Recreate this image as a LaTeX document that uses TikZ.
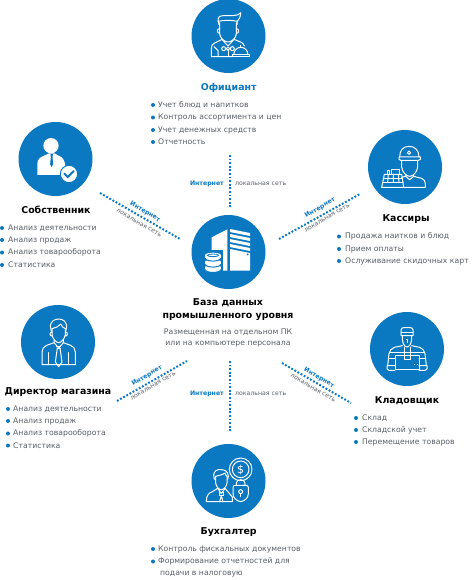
\documentclass[tikz,border=0pt]{standalone}
\usepackage{fontspec}
\setmainfont{DejaVu Sans}
\definecolor{brandblue}{HTML}{0B78C2}
\definecolor{bodygray}{HTML}{5A5F66}
\tikzset{
  hub/.style={circle,fill=brandblue,minimum size=74pt,inner sep=0pt},
  title/.style={font=\fontsize{9.4}{11}\selectfont\bfseries,text=black,inner sep=0pt},
  bluetitle/.style={title,text=brandblue},
  item/.style={font=\fontsize{7.7}{9}\selectfont,text=bodygray,anchor=west,inner sep=0pt},
  bullet/.style={circle,fill=brandblue,minimum size=4pt,inner sep=0pt},
  note/.style={font=\fontsize{7.7}{11}\selectfont,text=bodygray,align=center,inner sep=0pt},
  link/.style={brandblue,line width=2pt,dash pattern=on 1.8pt off 1.8pt},
  inet/.style={font=\fontsize{6.2}{7}\selectfont\bfseries,text=brandblue,inner sep=0pt},
  lan/.style={font=\fontsize{6.2}{7}\selectfont,text=bodygray,inner sep=0pt},
  icon/.style={white,line width=1pt,line join=round,line cap=round},
}
\begin{document}
\begin{tikzpicture}[x=1pt,y=-1pt]
\useasboundingbox (0,0) rectangle (474,580);
\fill[white] (0,0) rectangle (474,580);
% hubs
\node[hub] (waiter) at (228.5,36) {};
\node[hub] (owner) at (55.5,159) {};
\node[hub] (cashier) at (405,167) {};
\node[hub] (db) at (228.5,252) {};
\node[hub] (director) at (58,342) {};
\node[hub] (keeper) at (407,349) {};
\node[hub] (accountant) at (228.5,481) {};
% connector ends
\coordinate (t1) at (229.5,155); \coordinate (t2) at (229.5,208);
\coordinate (b1) at (229.5,361); \coordinate (b2) at (229.5,431);
\coordinate (o1) at (100,193); \coordinate (o2) at (180,239);
\coordinate (c1) at (279,239); \coordinate (c2) at (360,194);
\coordinate (d1) at (117,401); \coordinate (d2) at (187,361);
\coordinate (k1) at (282,363); \coordinate (k2) at (351,403);
\draw[link] (t1) -- (t2);
\draw[link] (b1) -- (b2);
\draw[link] (o1) -- (o2);
\draw[link] (c1) -- (c2);
\draw[link] (d1) -- (d2);
\draw[link] (k1) -- (k2);
% connector labels
\node[inet,anchor=east] (ti) at (224,184) {Интернет};
\node[lan,anchor=west] (tl) at (235,184) {локальная сеть};
\node[inet,anchor=east] (bi) at (224,394) {Интернет};
\node[lan,anchor=west] (bl) at (235,394) {локальная сеть};
\node[inet,rotate=-30] (oi) at (145,212) {Интернет};
\node[lan,rotate=-30] (ol) at (139,223) {локальная сеть};
\node[inet,rotate=30] (ci) at (320,208) {Интернет};
\node[lan,rotate=30] (cl) at (327,218) {локальная сеть};
\node[inet,rotate=30] (di) at (147,376) {Интернет};
\node[lan,rotate=30] (dl) at (153,386) {локальная сеть};
\node[inet,rotate=-30] (ki) at (319,378) {Интернет};
\node[lan,rotate=-30] (kl) at (313,388) {локальная сеть};
% titles
\node[bluetitle] (tw) at (228.7,88) {Официант};
\node[title] (to) at (56,210) {Собственник};
\node[title] (tc) at (406,219) {Кассиры};
\node[title] (tdb1) at (228,303) {База данных};
\node[title] (tdb2) at (228,317) {промышленного уровня};
\node[note] (ndb) at (228,338) {Размещенная на отдельном ПК\\или на компьютере персонала};
\node[title] (td) at (58,392) {Директор магазина};
\node[title] (tk) at (407,401) {Кладовщик};
\node[title] (ta) at (228.7,532) {Бухгалтер};
% lists
\foreach \n/\bx/\tx/\y/\t in {
 w1/153/158/105/Учет блюд и напитков,
 w2/153/158/117.5/Контроль ассортимента и цен,
 w3/153/158/130/Учет денежных средств,
 w4/153/158/142/Отчетность,
 o1x/2/8/228/Анализ деятельности,
 o2x/2/8/240/Анализ продаж,
 o3x/2/8/252.5/Анализ товарооборота,
 o4x/2/8/265/Статистика,
 c1x/339/345/236.5/Продажа наитков и блюд,
 c2x/339/345/249/Прием оплаты,
 c3x/339/345/261/Ослуживание скидочных карт,
 d1x/8/13/409/Анализ деятельности,
 d2x/8/13/421/Анализ продаж,
 d3x/8/13/433.5/Анализ товарооборота,
 d4x/8/13/445.5/Статистика,
 k1x/356/362/418/Склад,
 k2x/356/362/430/Складской учет,
 k3x/356/362/442/Перемещение товаров,
 a1x/153/158/549/Контроль фискальных документов,
 a2x/153/158/561.5/Формирование отчетностей для}
 {\node[bullet] (b\n) at (\bx,\y) {};
  \node[item] (i\n) at (\tx,\y) {\t};}
\node[item] (a3x) at (160,574) {подачи в налоговую};

% --- waiter icon
\begin{scope}[shift={(198,6)},scale=1/3,icon]
\draw (63,56) -- (60,40) .. controls (60,32) and (66,29) .. (74,29) -- (106,29) .. controls (116,29) and (124,25) .. (128,20) .. controls (128,34) and (122,42) .. (118,46) -- (117,56);
\draw (60,46) .. controls (80,42) and (100,42) .. (118,46);
\draw (65,50) -- (65,84) .. controls (67,98) and (80,108) .. (90,108) .. controls (100,108) and (113,98) .. (115,84) -- (115,50);
\draw (65,68) .. controls (56,66) and (56,84) .. (65,82);
\draw (115,68) .. controls (124,66) and (124,84) .. (115,82);
\draw (105,152) -- (40,152) -- (40,126) .. controls (40,118) and (44,114) .. (50,111) -- (72,100) -- (88,118) -- (92,118) -- (108,100) -- (130,109) .. controls (134,111) and (137,114) .. (139,120);
\draw (60,152) -- (60,134) -- (48,122);
\draw (77,128) circle (6) (103,128) circle (6);
\draw (90,128) circle (5);
\draw (90,134) -- (90,152);
\draw (107,146) .. controls (108,132) and (118,124) .. (128,124) .. controls (140,124) and (149,132) .. (150,146);
\draw (128,124) -- (128,118);
\draw (103,146) -- (153,146) -- (153,153) -- (103,153) -- cycle;
\end{scope}

% --- owner icon
\begin{scope}[shift={(0,110)},scale=1/3]
\fill[white] (153,107) circle (23);
\fill[white] (112,195) -- (112,162) .. controls (112,148) and (120,142) .. (130,138) -- (147,130) -- (163,130) -- (178,138) .. controls (188,142) and (194,150) .. (196,168) -- (180,195) -- cycle;
\draw[brandblue,line width=1pt,fill=brandblue] (153,134) -- (157,134) -- (156,142) -- (158,162) -- (155,168) -- (152,162) -- (154,142) -- cycle;
\fill[white,draw=brandblue,line width=1pt] (207,192) circle (26);
\draw[brandblue,line width=2pt,line cap=round] (193,191) -- (203,201) -- (221,183);
\end{scope}

% --- database icon
\begin{scope}[shift={(150,200)},scale=1/3]
\fill[white] (185,112) -- (232,88) -- (232,212) -- (205,212) -- (205,155) -- (185,155) -- cycle;
\foreach \yy in {0,15,30,45}
  \fill[white] (240,87+\yy) -- (300,99+\yy) -- (300,108+\yy) -- (240,96+\yy) -- cycle;
\fill[white] (240,147) -- (300,159) -- (300,212) -- (240,212) -- cycle;
\fill[brandblue] (293,163) circle (3);
\fill[brandblue] (158,150) rectangle (220,222);
\foreach \ya/\yb in {202/209,186/193,166/175}{
  \fill[white] (165,\ya) rectangle (213,\yb);
  \fill[white] (189,\ya) ellipse (24 and 8);
  \fill[white] (189,\yb) ellipse (24 and 8);
  \draw[brandblue,line width=1pt] (165,\yb) .. controls (170,\yb+11) and (208,\yb+11) .. (213,\yb);
}
\draw[brandblue,line width=.8pt] (189,166) ellipse (17 and 4);
\end{scope}

% --- cashier icon
\begin{scope}[shift={(375,137)},scale=1/3,icon]
\draw (74,60) .. controls (74,40) and (84,28) .. (102,28) .. controls (120,28) and (132,40) .. (132,60);
\draw (72,60) -- (136,60) .. controls (138,66) and (136,70) .. (130,70) -- (78,70) .. controls (72,70) and (70,66) .. (72,60) -- cycle;
\draw (102,47) circle (5);
\draw (80,70) -- (80,90) .. controls (82,106) and (94,118) .. (104,118) .. controls (114,118) and (126,106) .. (128,90) -- (128,70);
\draw (92,112) -- (92,118) -- (104,128) -- (116,118) -- (116,112);
\draw (116,118) -- (140,124) .. controls (147,127) and (151,133) .. (151,140) -- (151,151) -- (88,151);
\draw (92,118) -- (80,121);
\draw (50,112) -- (50,98) -- (72,98) -- (72,112);
\draw (36,112) -- (36,100) -- (44,100) -- (44,112);
\draw (28,112) -- (80,112) -- (86,151) -- (20,151) -- (28,112);
\draw (26,124) -- (82,124);
\draw (24,136) -- (84,136);
\draw (40,112) -- (38,136) (55,112) -- (55,136) (70,112) -- (72,136);
\end{scope}

% --- storekeeper icon
\begin{scope}[shift={(377,319)},scale=1/3,icon]
\draw (72,50) -- (72,33) .. controls (72,28) and (76,26) .. (80,26) -- (100,26) .. controls (104,26) and (108,28) .. (108,33) -- (108,50) -- cycle;
\draw (72,40) -- (108,40);
\draw (76,50) -- (76,62) .. controls (78,76) and (84,84) .. (90,84) .. controls (96,84) and (102,76) .. (104,62) -- (104,50);
\draw (88,62) -- (92,62) -- (92,70);
\draw (76,80) -- (52,85) .. controls (44,88) and (38,94) .. (36,104) -- (32,140);
\draw (104,80) -- (128,85) .. controls (136,88) and (142,94) .. (144,104) -- (148,140);
\draw (38,100) -- (142,100);
\draw (35,118) -- (54,118) (126,118) -- (145,118);
\draw (54,108) rectangle (126,150);
\draw (82,84) -- (82,120) -- (100,120) -- (100,84);
\draw (82,100) -- (100,100);
\draw (112,136) -- (113,136) (121,136) -- (122,136);
\draw (30,140) -- (54,140) (54,154) -- (36,154) .. controls (30,154) and (28,148) .. (30,140);
\draw (150,140) -- (126,140) (126,154) -- (144,154) .. controls (150,154) and (152,148) .. (150,140);
\end{scope}

% --- accountant icon
\begin{scope}[shift={(199,451)},scale=1/3,icon]
\draw (125,55) circle (34);
\draw (125,55) circle (25);
\node[white,inner sep=0pt,font=\fontsize{11}{12}\selectfont] (dollar) at (125,56) {\$};
\fill[brandblue] (104,103) rectangle (146,90);
\draw (112,103) -- (112,100) .. controls (112,90) and (118,86) .. (125,86) .. controls (132,86) and (138,90) .. (138,100) -- (138,103);
\draw[fill=brandblue] (108,103) -- (142,103) .. controls (146,103) and (148,106) .. (148,110) -- (148,128) .. controls (148,142) and (136,150) .. (125,152) .. controls (114,150) and (102,142) .. (102,128) -- (102,110) .. controls (102,106) and (104,103) .. (108,103) -- cycle;
\draw (125,122) circle (6);
\draw (125,128) -- (125,136);
\draw (46,85) -- (44,72) .. controls (44,60) and (56,54) .. (66,56) .. controls (78,56) and (88,62) .. (88,76) -- (86,85);
\draw (50,76) .. controls (60,74) and (72,70) .. (78,66) .. controls (80,72) and (82,76) .. (84,76);
\draw (50,76) -- (50,96) .. controls (52,108) and (60,116) .. (67,116) .. controls (74,116) and (82,108) .. (84,96) -- (84,76);
\draw (56,112) -- (40,122) .. controls (28,126) and (22,134) .. (22,152) -- (100,152) -- (100,138) -- (78,112);
\draw (56,112) -- (67,128) -- (78,112);
\draw (62,134) -- (72,134) -- (72,124) -- (62,124) -- cycle;
\draw (67,134) -- (62,152) (67,134) -- (72,152);
\end{scope}

% --- director icon
\begin{scope}[shift={(28,312)},scale=1/3,icon]
\draw (70,58) -- (67,42) .. controls (68,28) and (80,21) .. (92,21) .. controls (106,21) and (116,30) .. (116,44) -- (113,58);
\draw (72,50) .. controls (82,48) and (92,44) .. (98,36) .. controls (100,42) and (106,48) .. (112,50);
\draw (72,50) -- (72,68) .. controls (74,80) and (84,92) .. (92,92) .. controls (100,92) and (110,80) .. (112,68) -- (112,50);
\draw (72,60) .. controls (64,58) and (64,74) .. (72,72);
\draw (112,60) .. controls (120,58) and (120,74) .. (112,72);
\draw (78,84) -- (78,92) -- (92,108) -- (106,92) -- (106,84);
\draw (78,92) -- (56,100) .. controls (48,103) and (42,110) .. (42,120) -- (42,158) -- (142,158) -- (142,120) .. controls (142,110) and (136,103) .. (128,100) -- (106,92);
\draw (86,102) -- (98,102) (88,108) -- (96,108);
\draw (88,108) -- (82,150) -- (92,164) -- (102,150) -- (96,108);
\draw (62,122) -- (62,158) (122,122) -- (122,158);
\end{scope}
\end{tikzpicture}
\end{document}
